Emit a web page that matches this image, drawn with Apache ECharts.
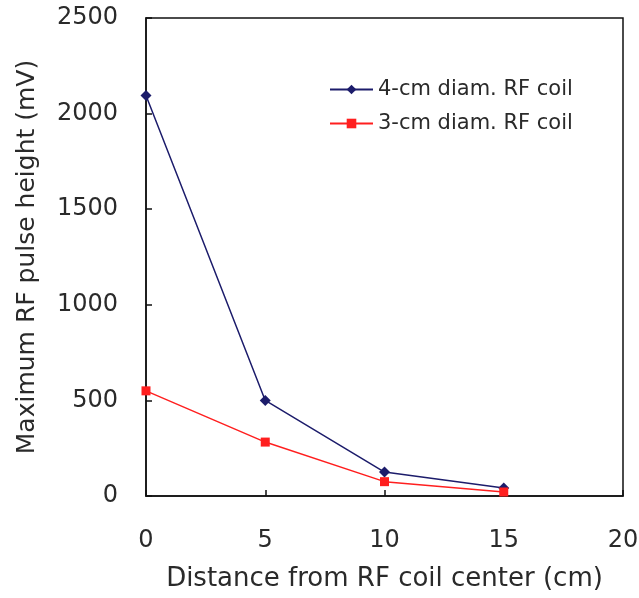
<!DOCTYPE html>
<html><head><meta charset="utf-8">
<script src="https://cdn.jsdelivr.net/npm/echarts@6/dist/echarts.min.js"></script>
<style>html,body{margin:0;padding:0;background:#fff}#c{width:639px;height:598px}</style>
</head><body><div id="c"></div>
<script>
const distances = [0, 5, 10, 15];
const coil4cm = [2095, 500, 125, 42];
const coil3cm = [550, 282, 75, 21];
const seriesNames = ['4-cm diam. RF coil', '3-cm diam. RF coil'];
const xTitle = 'Distance from RF coil center (cm)';
const yTitle = 'Maximum RF pulse height (mV)';

const chart = echarts.init(document.getElementById('c'));
const font = 'DejaVu Sans';
const txt = '#2a2a2a';
chart.setOption({
  animation: false,
  backgroundColor: '#fff',
  textStyle: {fontFamily: font},
  grid: {left: 146, right: 16, top: 18, bottom: 102, outerBoundsMode: 'none', containLabel: false,
         show: true, borderColor: '#111', borderWidth: 1.5, backgroundColor: 'transparent'},
  legend: {
    orient: 'vertical', left: 324, top: 74, itemWidth: 43, itemHeight: 12, itemGap: 13,
    textStyle: {fontSize: 21, color: txt, fontFamily: font},
    data: seriesNames
  },
  xAxis: {
    type: 'value', min: 0, max: 20, interval: 5,
    name: xTitle, nameLocation: 'middle', nameGap: 70,
    nameTextStyle: {fontSize: 26, color: txt},
    axisLine: {show: true, lineStyle: {color: '#111', width: 1.5}},
    axisTick: {show: true, inside: true, length: 6, lineStyle: {color: '#111', width: 1.5}},
    axisLabel: {fontSize: 24, color: txt, margin: 33, formatter: v => String(v)},
    splitLine: {show: false}
  },
  yAxis: {
    type: 'value', min: 0, max: 2500, interval: 500,
    name: yTitle, nameLocation: 'middle', nameGap: 106,
    nameTextStyle: {fontSize: 25, color: txt},
    axisLine: {show: true, lineStyle: {color: '#111', width: 1.5}},
    axisTick: {show: true, inside: true, length: 6, lineStyle: {color: '#111', width: 1.5}},
    axisLabel: {fontSize: 24, color: txt, margin: 28, formatter: v => String(v)},
    splitLine: {show: false}
  },
  series: [
    {name: seriesNames[0], type: 'line', data: distances.map((d, i) => [d, coil4cm[i]]),
     symbol: 'diamond', symbolSize: 11, itemStyle: {color: '#1c1c6b'}, lineStyle: {color: '#1c1c6b', width: 1.5}},
    {name: seriesNames[1], type: 'line', data: distances.map((d, i) => [d, coil3cm[i]]),
     symbol: 'rect', symbolSize: 9, itemStyle: {color: '#ff1f1f'}, lineStyle: {color: '#ff1f1f', width: 1.5}}
  ]
});
</script></body></html>
